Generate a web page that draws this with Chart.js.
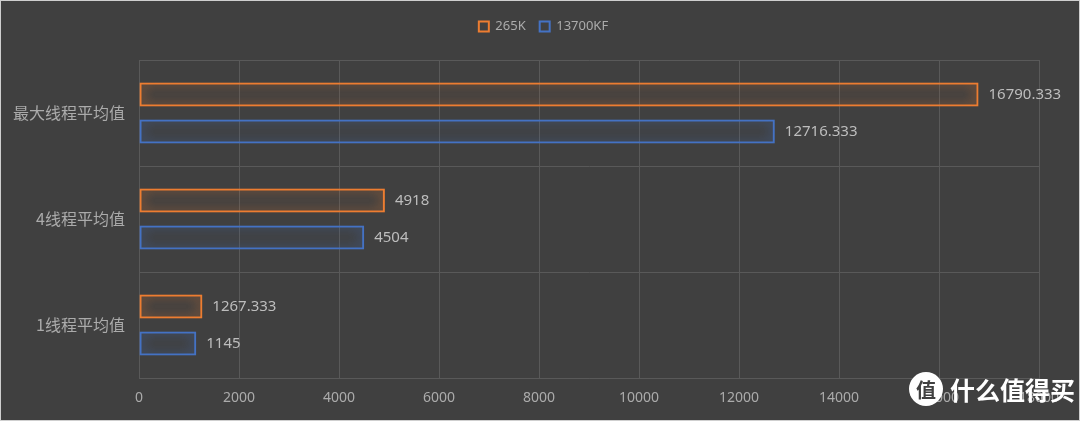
<!DOCTYPE html>
<html>
<head>
<meta charset="utf-8">
<script src="https://cdn.jsdelivr.net/npm/chart.js@4.4.1/dist/chart.umd.min.js"></script>
<style>
  html, body { margin: 0; padding: 0; background: #404040; }
  canvas { display: block; }
</style>
</head>
<body>
<canvas id="cpuChart" width="1080" height="421"></canvas>
<script>
// data
const categories = ['最大线程平均值', '4线程平均值', '1线程平均值'];
const series265K = [16790.333, 4918, 1267.333];
const series13700KF = [12716.333, 4504, 1145];
const xTicks = [0, 2000, 4000, 6000, 8000, 10000, 12000, 14000, 16000, 18000];

const orange = '#ED7D31';
const blue = '#4472C4';
const textGray = '#ababab';
const labelGray = '#bdbdbd';
const gridGray = '#595959';

// glow around the bar outlines
const glowPlugin = {
  id: 'glow',
  beforeDatasetDraw(chart, args) {
    const ctx = chart.ctx;
    ctx.save();
    ctx.shadowColor = chart.data.datasets[args.index].borderColor;
    ctx.shadowBlur = 12;
  },
  afterDatasetDraw(chart) {
    chart.ctx.restore();
  }
};

// extra room under the legend, legend centred on the canvas
const legendSpace = {
  id: 'legendSpace',
  afterInit(chart) {
    const legend = chart.legend;
    const fit = legend.fit;
    legend.fit = function () {
      fit.call(this);
      this.height += 17;
    };
  },
  afterLayout(chart) {
    chart.legend.left += 24;
    chart.legend.right += 24;
  }
};

// value labels right of every bar
const valueLabels = {
  id: 'valueLabels',
  afterDatasetsDraw(chart) {
    const ctx = chart.ctx;
    ctx.save();
    ctx.font = '15px "Noto Sans", "Noto Sans CJK SC", sans-serif';
    ctx.fillStyle = labelGray;
    ctx.textAlign = 'left';
    ctx.textBaseline = 'middle';
    chart.data.datasets.forEach((ds, i) => {
      chart.getDatasetMeta(i).data.forEach((bar, j) => {
        ctx.fillText(String(ds.data[j]), bar.x + 10, bar.y);
      });
    });
    ctx.restore();
  }
};

// frame + watermark
const framePlugin = {
  id: 'frame',
  afterDraw(chart) {
    const ctx = chart.ctx;
    ctx.save();
    // watermark
    ctx.fillStyle = '#ffffff';
    ctx.beginPath();
    ctx.arc(926, 389, 17, 0, Math.PI * 2);
    ctx.fill();
    ctx.fillStyle = '#404040';
    ctx.font = 'bold 20px "Noto Sans CJK SC", sans-serif';
    ctx.textAlign = 'center';
    ctx.textBaseline = 'middle';
    ctx.fillText('值', 926, 390);
    ctx.fillStyle = '#ffffff';
    ctx.font = 'bold 25px "Noto Sans CJK SC", sans-serif';
    ctx.textAlign = 'left';
    ctx.fillText('什么值得买', 950, 390);
    // outer border
    ctx.strokeStyle = '#cfcfcf';
    ctx.lineWidth = 2;
    ctx.strokeRect(0, 0, 1080, 421);
    ctx.restore();
  }
};

new Chart(document.getElementById('cpuChart'), {
  type: 'bar',
  data: {
    labels: categories,
    datasets: [
      {
        label: '265K',
        data: series265K,
        backgroundColor: 'rgba(0,0,0,0)',
        borderColor: orange,
        borderWidth: 2,
        borderSkipped: false,
        categoryPercentage: 0.7,
        barPercentage: 0.65
      },
      {
        label: '13700KF',
        data: series13700KF,
        backgroundColor: 'rgba(0,0,0,0)',
        borderColor: blue,
        borderWidth: 2,
        borderSkipped: false,
        categoryPercentage: 0.7,
        barPercentage: 0.65
      }
    ]
  },
  options: {
    indexAxis: 'y',
    responsive: false,
    animation: false,
    devicePixelRatio: 1,
    layout: { padding: { top: 6, right: 41, bottom: 0, left: 0 } },
    plugins: {
      legend: {
        position: 'top',
        labels: {
          color: textGray,
          font: { size: 13, family: '"Noto Sans", sans-serif' },
          boxWidth: 10,
          boxHeight: 10,
          padding: 14
        }
      },
      tooltip: { enabled: false }
    },
    scales: {
      x: {
        min: xTicks[0],
        max: xTicks[xTicks.length - 1],
        afterFit: scale => { scale.height = 43; },
        ticks: {
          stepSize: xTicks[1] - xTicks[0],
          autoSkip: false,
          maxRotation: 0,
          color: textGray,
          font: { size: 14, family: '"Noto Sans", sans-serif' },
          padding: 12,
          callback: v => String(v)
        },
        grid: { color: gridGray, drawTicks: false },
        border: { color: gridGray }
      },
      y: {
        afterFit: scale => { scale.width = 139; },
        ticks: {
          color: textGray,
          font: { size: 16, family: '"Noto Sans CJK SC", sans-serif' },
          padding: 14
        },
        grid: { color: gridGray, drawTicks: false, offset: true },
        border: { color: gridGray }
      }
    }
  },
  plugins: [legendSpace, glowPlugin, valueLabels, framePlugin]
});
</script>
</body>
</html>
